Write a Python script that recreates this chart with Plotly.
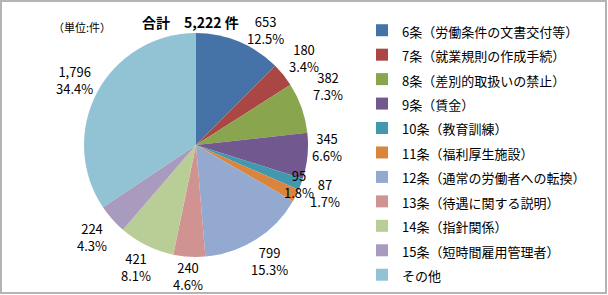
import math
import plotly.graph_objects as go

labels = ["6条（労働条件の文書交付等）", "7条（就業規則の作成手続）", "8条（差別的取扱いの禁止）",
          "9条（賃金）", "10条（教育訓練）", "11条（福利厚生施設）", "12条（通常の労働者への転換）",
          "13条（待遇に関する説明）", "14条（指針関係）", "15条（短時間雇用管理者）", "その他"]
values = [653, 180, 382, 345, 87, 95, 799, 240, 421, 224, 1796]
colors = ["#4572A7", "#AA4643", "#89A54E", "#71588F", "#4198AF", "#DB843D",
          "#93A9CF", "#D19392", "#B9CD96", "#A99BBD", "#91C3D5"]
total_text = "合計　5,222 件"
unit_text = "（単位:件）"

W, H = 608, 295
cx, cy, r = 196, 145, 112
FONT = "Noto Sans CJK JP"

# label placement (layout settings)
label_gap = 5            # gap between pie edge and label box
box_hw, box_hh = 17, 13  # half width / half height used for label offset
label_nudge = {0: (31, 134), 2: (66, 144), 3: (91, 131), 5: (111, 110)}  # index -> (angle deg, radius px)

fig = go.Figure(go.Pie(
    labels=["<span style='font-size:13px'>" + l + "</span>" for l in labels],
    values=values, sort=False, direction="clockwise", rotation=0,
    marker=dict(colors=colors, line=dict(width=0)),
    textinfo="none",
    domain=dict(x=[(cx - r) / W, (cx + r) / W], y=[(H - cy - r) / H, (H - cy + r) / H]),
    hoverinfo="skip",
))

total = sum(values)
annotations = []
cum = 0
for i, v in enumerate(values):
    mid = (cum + v / 2) / total * 360
    cum += v
    s, c = math.sin(math.radians(mid)), math.cos(math.radians(mid))
    rr = r + label_gap + abs(s) * box_hw + abs(c) * box_hh
    ang, rr = label_nudge.get(i, (mid, rr))
    x = cx + rr * math.sin(math.radians(ang))
    y = cy - rr * math.cos(math.radians(ang))
    annotations.append(dict(
        text=f"{v:,}<br>{v / total * 100:.1f}%", x=x / W, y=1 - y / H, xref="paper", yref="paper",
        xanchor="center", yanchor="middle", showarrow=False,
        font=dict(size=13, family=FONT, color="#000000")))

annotations += [
    dict(text="<b>" + total_text + "</b>", x=190 / W, y=1 - 22 / H, xref="paper", yref="paper",
         xanchor="center", yanchor="middle",
         showarrow=False, font=dict(size=14, family=FONT, color="#000000")),
    dict(text=unit_text, x=82 / W, y=1 - 27 / H, xref="paper", yref="paper",
         xanchor="center", yanchor="middle",
         showarrow=False, font=dict(size=11, family=FONT, color="#000000")),
]

fig.update_layout(
    width=W, height=H, margin=dict(l=0, r=0, t=0, b=0, autoexpand=False),
    paper_bgcolor="white", plot_bgcolor="white",
    font=dict(family=FONT, size=12, color="#000000"),
    legend=dict(x=362 / W, y=1 - 13 / H, xanchor="left", yanchor="top",
                font=dict(size=16.5, family=FONT, color="#000000"), bgcolor="rgba(0,0,0,0)",
                traceorder="normal"),
    annotations=annotations,
    shapes=[dict(type="rect", xref="paper", yref="paper", x0=1 / W, y0=1 - 293 / H, x1=606 / W, y1=1 - 1 / H,
                 line=dict(color="#B4B4B4", width=2), fillcolor="rgba(0,0,0,0)", layer="below")],
)

fig.write_html("out.html")
